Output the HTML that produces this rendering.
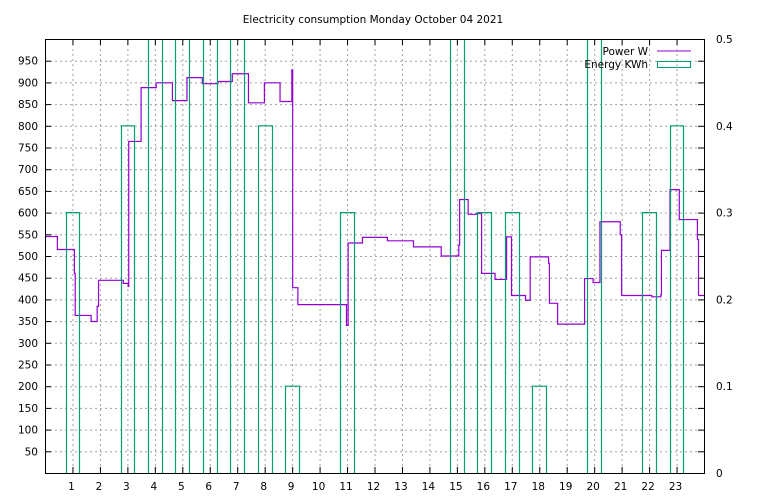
<!DOCTYPE html>
<html><head><meta charset="utf-8"><style>
html,body{margin:0;padding:0;background:#fff;}
svg{display:block;font-family:"DejaVu Sans","Liberation Sans",sans-serif;}
</style></head><body>
<svg id="chart" width="768" height="500" viewBox="0 0 768 500" xmlns="http://www.w3.org/2000/svg">
<rect width="768" height="500" fill="#fff"/>
<text x="373" y="23" font-size="10.5" text-anchor="middle">Electricity consumption Monday October 04 2021</text>
<g id="grid"></g>
<g id="line"></g>
<g id="bars"></g>
<g id="axes"></g>
<g>
<text x="648" y="55" font-size="10.5" text-anchor="end">Power W</text>
<line x1="657" y1="51" x2="691" y2="51" stroke="#9400d3" stroke-width="1"/>
<text x="648" y="68" font-size="10.5" text-anchor="end">Energy KWh</text>
<rect x="657.5" y="61.5" width="33" height="6" fill="none" stroke="#009e73" stroke-width="1"/>
</g>
</svg>
<script>
const energyHours = [0,1,2,3,4,5,6,7,8,9,10,11,12,13,14,15,16,17,18,19,20,21,22,23];
const energyKWh = [0,0.3,0,0.4,0.9,0.9,0.9,0.9,0.4,0.1,0,0.3,0,0,0,0.9,0.3,0.3,0.1,0,0.9,0,0.3,0.4];
const powerTimes = [0,0.45,1.07,1.10,1.68,1.90,1.95,2.85,3.03,3.05,3.50,4.05,4.64,5.17,5.73,6.30,6.82,7.41,7.99,8.56,8.99,9.02,9.21,10.98,11.04,11.56,12.47,13.42,14.43,15.07,15.10,15.41,15.72,15.90,16.39,16.81,16.99,17.50,17.67,18.34,18.37,18.67,19.65,19.96,20.21,20.95,21.0,22.10,22.43,22.45,22.76,23.10,23.76,23.80,23.98];
const powerW = [545,515,460,363,349,384,444,437,430,764,888,899,858,911,897,902,920,853,899,856,929,427,388,340,530,543,535,521,500,525,630,596,598,460,446,544,409,398,498,483,391,343,448,439,579,549,409,406,411,513,653,584,538,409,409];
const yTicks = [50,100,150,200,250,300,350,400,450,500,550,600,650,700,750,800,850,900,950];
const y2Ticks = [0,0.1,0.2,0.3,0.4,0.5];
const xTicks = [1,2,3,4,5,6,7,8,9,10,11,12,13,14,15,16,17,18,19,20,21,22,23];

const L=45,R=704,T=39,B=473;
const x=h=>L+(R-L)*h/24;
const y=v=>B-(B-T)*v/1000;
const y2=v=>B-(B-T)*v/0.5;
const NS="http://www.w3.org/2000/svg";
function mk(tag,parent,attrs){const e=document.createElementNS(NS,tag);for(const k in attrs)e.setAttribute(k,attrs[k]);parent.appendChild(e);return e;}
const grid=document.getElementById('grid'),axes=document.getElementById('axes'),bars=document.getElementById('bars'),line=document.getElementById('line');

yTicks.forEach(v=>{
  const g=mk('line',grid,{x1:L,x2:R,y1:y(v)+0.5,y2:y(v)+0.5,stroke:'#a0a0a0','stroke-dasharray':'2,3','stroke-width':1});
  
  
  const t1=mk('line',axes,{x1:L,x2:L+6,y1:y(v)+0.5,y2:y(v)+0.5,stroke:'#000'});
  
  
  const t2=mk('line',axes,{x1:R-6,x2:R,y1:y(v)+0.5,y2:y(v)+0.5,stroke:'#000'});
  
  
  const lb=mk('text',axes,{x:38,y:y(v)+4,'font-size':10.5,'text-anchor':'end'});
  lb.textContent=v;
  
  
});
y2Ticks.forEach(v=>{
  const lb=mk('text',axes,{x:716,y:y2(v)+4,'font-size':10.5});
  lb.textContent=v;
  
  
});
xTicks.forEach(h=>{
  const g=mk('line',grid,{x1:x(h)+0.5,x2:x(h)+0.5,y1:T,y2:B,stroke:'#a0a0a0','stroke-dasharray':'2,3','stroke-width':1});
  
  
  const t1=mk('line',axes,{x1:x(h)+0.5,x2:x(h)+0.5,y1:B-6,y2:B,stroke:'#000'});
  
  
  const t2=mk('line',axes,{x1:x(h)+0.5,x2:x(h)+0.5,y1:T,y2:T+6,stroke:'#000'});
  
  
  const lb=mk('text',axes,{x:x(h)-1,y:490,'font-size':10.5,'text-anchor':'middle'});
  lb.textContent=h;
  
  
});
const frame=mk('rect',axes,{x:L+0.5,y:T+0.5,width:R-L,height:B-T,fill:'none',stroke:'#000'});



energyHours.forEach((h,i)=>{
  const v=energyKWh[i]; if(v<=0) return;
  const x0=Math.round(x(h-0.25))+0.5,x1=Math.round(x(h+0.25))+0.5;
  let d;
  if(v>0.5){
    d=`M${x0},${B} L${x0},${T} M${x1},${T} L${x1},${B}`;
  } else {
    const top=y2(v);
    d=`M${x0},${B} L${x0},${top} L${x1},${top} L${x1},${B}`;
  }
  const p=mk('path',bars,{d:d,fill:'none',stroke:'#009e73','stroke-width':1.2});
  
  
});

let d='';
powerTimes.forEach((t,i)=>{
  const px=x(t),py=y(powerW[i]);
  if(i===0) d+=`M${px},${py}`;
  else d+=` L${px},${y(powerW[i-1])} L${px},${py}`;
});
d+=` L${R},${y(powerW[powerW.length-1])}`;
const pl=mk('path',line,{d:d,fill:'none',stroke:'#9400d3','stroke-width':1.2});


</script>
</body></html>
